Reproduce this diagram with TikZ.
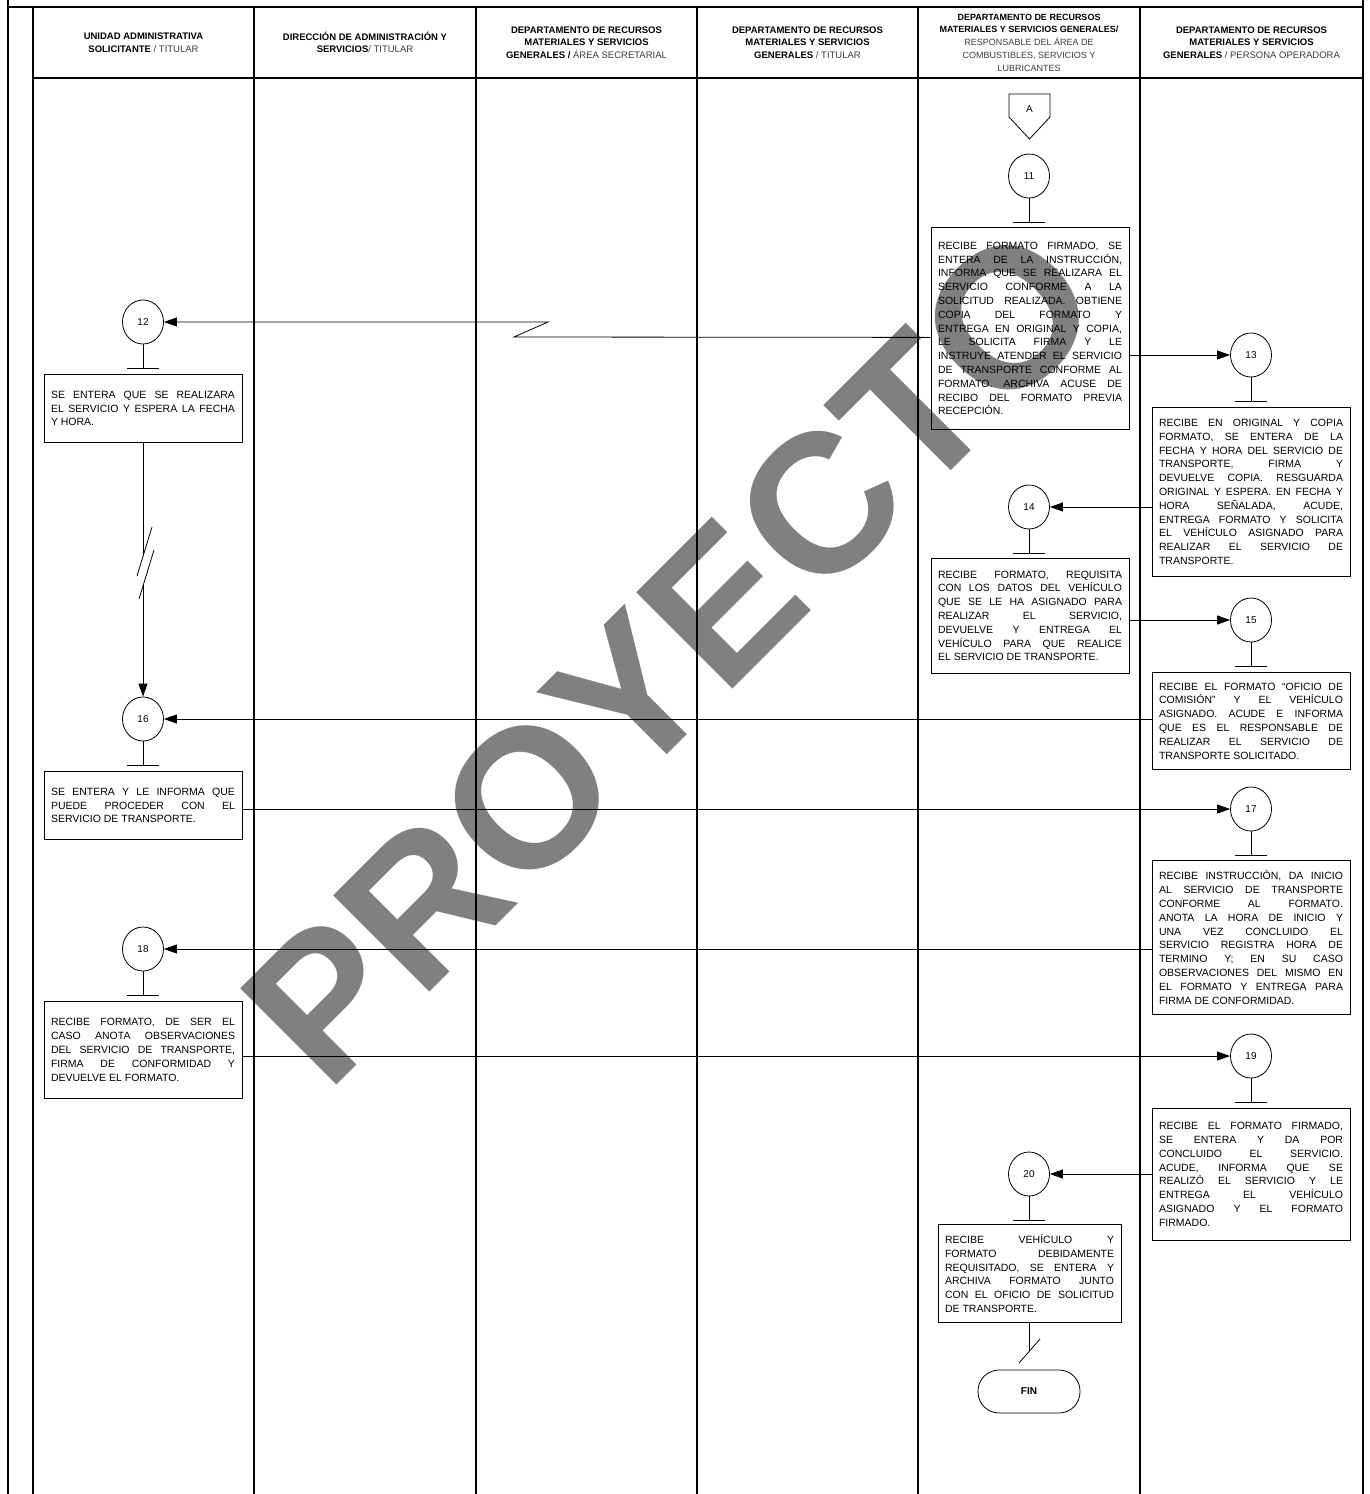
\documentclass[tikz,border=0pt]{standalone}
\usepackage{fontspec}
\setmainfont{Liberation Sans}
\usetikzlibrary{arrows.meta,shapes.geometric}
\definecolor{wmgray}{RGB}{128,128,128}
\definecolor{hdrgray}{RGB}{60,60,60}
\newcommand\mybodyfont{\fontsize{10.5}{13.8}\selectfont}
\newcommand\myhdrfont{\fontsize{9.5}{12.5}\selectfont}
\newcommand\lightpart[1]{\textcolor{hdrgray}{#1}}
\tolerance=10000
\hyphenpenalty=10000
\hbadness=10000
\begin{document}
\begin{tikzpicture}[x=1pt,y=-1pt,
  lane/.style={line width=1.2pt},
  box/.style={draw, line width=0.8pt, anchor=north, align=justify, inner xsep=7pt, inner ysep=0pt, text width=184pt, font=\mybodyfont},
  circ/.style={draw, line width=0.8pt, ellipse, minimum width=41pt, minimum height=44pt, inner sep=0pt, font=\fontsize{10}{11}\selectfont},
  conn/.style={line width=0.8pt},
  arr/.style={line width=0.8pt, -{Triangle[length=13pt,width=9pt]}},
  hdr/.style={align=center, inner sep=0pt, font=\myhdrfont}
]
\useasboundingbox (0,0) rectangle (1369,1494);

% watermark (behind everything)
\node[font=\fontsize{198}{198}\selectfont\bfseries, text=wmgray, rotate=45, anchor=base west, inner sep=0pt] (wm) at (327,1095) {PROYECTO};

% frame and lanes
\draw[lane] (8,0) -- (8,1494);
\draw[lane] (1363,0) -- (1363,1494);
\draw[lane] (8,7) -- (1363,7);
\draw[lane] (33,78) -- (1363,78);
\foreach \xx in {33,254,476,697,918,1140} { \draw[lane] (\xx,7) -- (\xx,1494); }

% headers
\node[hdr] (h1) at (143.5,42.5) {\textbf{UNIDAD ADMINISTRATIVA}\\\textbf{SOLICITANTE} \lightpart{/ TITULAR}};
\node[hdr] (h2) at (365,42.5) {\textbf{DIRECCIÓN DE ADMINISTRACIÓN Y}\\\textbf{SERVICIOS}\lightpart{/ TITULAR}};
\node[hdr] (h3) at (586.5,42.5) {\textbf{DEPARTAMENTO DE RECURSOS}\\\textbf{MATERIALES Y SERVICIOS}\\\textbf{GENERALES /} \lightpart{ÁREA SECRETARIAL}};
\node[hdr] (h4) at (807.5,42.5) {\textbf{DEPARTAMENTO DE RECURSOS}\\\textbf{MATERIALES Y SERVICIOS}\\\textbf{GENERALES} \lightpart{/ TITULAR}};
\node[hdr, font=\fontsize{9}{12.8}\selectfont] (h5) at (1029,42.5) {\textbf{DEPARTAMENTO DE RECURSOS}\\\textbf{MATERIALES Y SERVICIOS GENERALES/}\\\lightpart{RESPONSABLE DEL ÁREA DE}\\\lightpart{COMBUSTIBLES, SERVICIOS Y}\\\lightpart{LUBRICANTES}};
\node[hdr] (h6) at (1251.5,42.5) {\textbf{DEPARTAMENTO DE RECURSOS}\\\textbf{MATERIALES Y SERVICIOS}\\\textbf{GENERALES} \lightpart{/ PERSONA OPERADORA}};

% off-page connector A
\draw[line width=0.8pt] (1009,94) -- (1050,94) -- (1050,117) -- (1029.5,139) -- (1009,117) -- cycle;
\node[font=\fontsize{10}{11}\selectfont, inner sep=0pt] (A) at (1029.5,109) {A};

% circles
\node[circ] (c11) at (1029,176) {11};
\node[circ] (c12) at (143,322) {12};
\node[circ] (c13) at (1251,355) {13};
\node[circ] (c14) at (1029,507) {14};
\node[circ] (c15) at (1251,620) {15};
\node[circ] (c16) at (143,719) {16};
\node[circ] (c17) at (1251,809) {17};
\node[circ] (c18) at (143,949) {18};
\node[circ] (c19) at (1251,1056) {19};
\node[circ] (c20) at (1029,1174) {20};

% T-bars under circles
\foreach \c in {c11,c12,c13,c14,c15,c16,c17,c18,c19,c20} {
  \draw[conn] (\c.south) -- ++(0,24) coordinate (t\c);
  \draw[conn] ([xshift=-16pt]t\c) -- ([xshift=16pt]t\c);
}

% boxes
\node[box, minimum height=202pt] (b11) at (1030,227) {RECIBE FORMATO FIRMADO, SE\break ENTERA DE LA INSTRUCCIÓN,\break INFORMA QUE SE REALIZARA EL\break SERVICIO CONFORME A LA\break SOLICITUD REALIZADA. OBTIENE\break COPIA DEL FORMATO Y\break ENTREGA EN ORIGINAL Y COPIA,\break LE SOLICITA FIRMA Y LE\break INSTRUYE ATENDER EL SERVICIO\break DE TRANSPORTE CONFORME AL\break FORMATO. ARCHIVA ACUSE DE\break RECIBO DEL FORMATO PREVIA\break RECEPCIÓN.};
\node[box, minimum height=68pt] (b12) at (143,374) {SE ENTERA QUE SE REALIZARA\break EL SERVICIO Y ESPERA LA FECHA\break Y HORA.};
\node[box, minimum height=169pt] (b13) at (1251,407) {RECIBE EN ORIGINAL Y COPIA\break FORMATO, SE ENTERA DE LA\break FECHA Y HORA DEL SERVICIO DE\break TRANSPORTE, FIRMA Y\break DEVUELVE COPIA. RESGUARDA\break ORIGINAL Y ESPERA. EN FECHA Y\break HORA SEÑALADA, ACUDE,\break ENTREGA FORMATO Y SOLICITA\break EL VEHÍCULO ASIGNADO PARA\break REALIZAR EL SERVICIO DE\break TRANSPORTE.};
\node[box, minimum height=115pt] (b14) at (1030,558) {RECIBE FORMATO, REQUISITA\break CON LOS DATOS DEL VEHÍCULO\break QUE SE LE HA ASIGNADO PARA\break REALIZAR EL SERVICIO,\break DEVUELVE Y ENTREGA EL\break VEHÍCULO PARA QUE REALICE\break EL SERVICIO DE TRANSPORTE.};
\node[box, minimum height=97pt] (b15) at (1251,672) {RECIBE EL FORMATO “OFICIO DE\break COMISIÓN” Y EL VEHÍCULO\break ASIGNADO. ACUDE E INFORMA\break QUE ES EL RESPONSABLE DE\break REALIZAR EL SERVICIO DE\break TRANSPORTE SOLICITADO.};
\node[box, minimum height=68pt] (b16) at (143,771) {SE ENTERA Y LE INFORMA QUE\break PUEDE PROCEDER CON EL\break SERVICIO DE TRANSPORTE.};
\node[box, minimum height=154pt] (b17) at (1251,860) {RECIBE INSTRUCCIÓN, DA INICIO\break AL SERVICIO DE TRANSPORTE\break CONFORME AL FORMATO.\break ANOTA LA HORA DE INICIO Y\break UNA VEZ CONCLUIDO EL\break SERVICIO REGISTRA HORA DE\break TERMINO Y; EN SU CASO\break OBSERVACIONES DEL MISMO EN\break EL FORMATO Y ENTREGA PARA\break FIRMA DE CONFORMIDAD.};
\node[box, minimum height=97pt] (b18) at (143,1001) {RECIBE FORMATO, DE SER EL\break CASO ANOTA OBSERVACIONES\break DEL SERVICIO DE TRANSPORTE,\break FIRMA DE CONFORMIDAD Y\break DEVUELVE EL FORMATO.};
\node[box, minimum height=132pt] (b19) at (1251,1108) {RECIBE EL FORMATO FIRMADO,\break SE ENTERA Y DA POR\break CONCLUIDO EL SERVICIO.\break ACUDE, INFORMA QUE SE\break REALIZÓ EL SERVICIO Y LE\break ENTREGA EL VEHÍCULO\break ASIGNADO Y EL FORMATO\break FIRMADO.};
\node[box, minimum height=98pt, text width=169pt] (b20) at (1029.5,1224) {RECIBE VEHÍCULO Y\break FORMATO DEBIDAMENTE\break REQUISITADO, SE ENTERA Y\break ARCHIVA FORMATO JUNTO\break CON EL OFICIO DE SOLICITUD\break DE TRANSPORTE.};

% FIN
\node[draw, line width=0.8pt, rounded corners=21pt, minimum width=102pt, minimum height=43pt, inner sep=0pt, font=\fontsize{10}{11}\selectfont\bfseries] (fin) at (1029,1391.5) {FIN};

% connectors
\coordinate (z1) at (514,337);
\coordinate (z2) at (548,322);
\draw[arr] ([yshift=-9pt]b11.west) -- (z1) -- (z2) -- (c12.east);
\draw[arr] (c13 -| b11.east) -- (c13.west);
\draw[arr] (c14 -| b13.west) -- (c14.east);
\draw[arr] (c15 -| b14.east) -- (c15.west);
\draw[arr] (c16 -| b15.west) -- (c16.east);
\draw[arr] (c17 -| b16.east) -- (c17.west);
\draw[arr] (c18 -| b17.west) -- (c18.east);
\draw[arr] (c19 -| b18.east) -- (c19.west);
\draw[arr] (c20 -| b19.west) -- (c20.east);

% 12 -> 16 with break
\coordinate (brk1) at (143,556);
\coordinate (brk2) at (143,584);
\draw[conn] (b12.south) -- (brk1);
\draw[conn] ([shift={(-6,20)}]brk1) -- ([shift={(9,-29)}]brk1);
\draw[conn] ([shift={(-4,15)}]brk2) -- ([shift={(11,-34)}]brk2);
\draw[arr] (brk2) -- (c16.north);

% 20 -> FIN (cut end)
\coordinate (fe) at (1029.5,1351);
\draw[conn] (b20.south) -- (fe);
\draw[conn] ([shift={(-10.5,12)}]fe) -- ([shift={(10.5,-12)}]fe);
\end{tikzpicture}
\end{document}
